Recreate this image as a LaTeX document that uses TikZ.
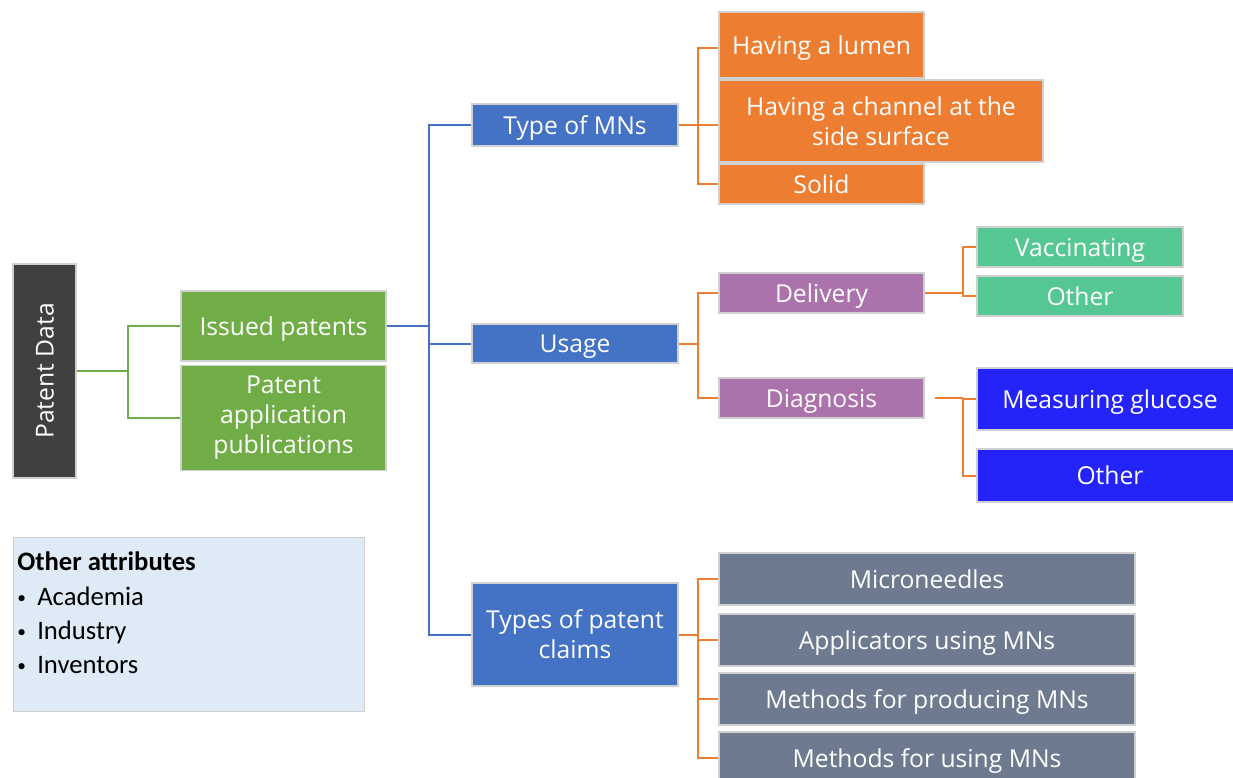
\documentclass[tikz,border=0pt]{standalone}
\usepackage{fontspec}
\setmainfont{Open Sans}
\newfontfamily\calibri{Carlito}
\usepackage{tikz}

\definecolor{pdgray}{HTML}{404040}
\definecolor{grn}{HTML}{70AD47}
\definecolor{blu}{HTML}{4472C4}
\definecolor{org}{HTML}{ED7D31}
\definecolor{pur}{HTML}{AB72AC}
\definecolor{teal}{HTML}{55C792}
\definecolor{bblue}{HTML}{2424FA}
\definecolor{slate}{HTML}{6E7A8F}
\definecolor{lblue}{HTML}{DEEAF6}
\definecolor{edge}{HTML}{D0D0D0}

\begin{document}
\begin{tikzpicture}[x=0.75pt, y=-0.75pt,
  box/.style={draw=edge, line width=1pt, text=white, inner sep=0pt, align=center,
    font=\fontsize{18.5}{22.5}\selectfont},
  sline/.style={text height=17pt, text depth=3.5pt},
  gline/.style={grn, line width=1.5pt},
  bline/.style={blu, line width=1.5pt},
  oline/.style={org, line width=1.5pt}]
\useasboundingbox [fill=white] (0,0) rectangle (1233,778);

\node [box, sline, fill=pdgray, rotate=90, minimum width=160.5pt, minimum height=47.25pt] (pdata) at (44.5,371) {Patent Data};

\node [box, sline, fill=grn, minimum width=153.75pt, minimum height=52.5pt] (issued) at (283.5,326) {Issued patents};
\node [box, fill=grn, minimum width=153.75pt, minimum height=78.75pt] (pubs) at (283.5,418) {Patent\\application\\publications};

\node [box, sline, fill=blu, minimum width=154.5pt, minimum height=31.5pt] (typemn) at (575,125) {Type of MNs};
\node [box, sline, fill=blu, minimum width=154.5pt, minimum height=29.25pt] (usage) at (575,343.5) {Usage};
\node [box, fill=blu, minimum width=154.5pt, minimum height=77.25pt] (claims) at (575,634.5) {Types of patent\\claims};

\node [box, sline, fill=org, minimum width=153.75pt, minimum height=49.5pt] (lumen) at (821.5,45) {Having a lumen};
\node [box, fill=org, minimum width=243pt, minimum height=61.5pt] (channel) at (881,121) {Having a channel at the\\side surface};
\node [box, sline, fill=org, minimum width=153.75pt, minimum height=30pt] (solid) at (821.5,184) {Solid};

\node [box, sline, fill=pur, minimum width=153.75pt, minimum height=30pt] (delivery) at (821.5,293) {Delivery};
\node [box, sline, fill=pur, minimum width=153.75pt, minimum height=30pt] (diag) at (821.5,398) {Diagnosis};

\node [box, sline, fill=teal, minimum width=154.5pt, minimum height=30pt] (vacc) at (1080,247) {Vaccinating};
\node [box, sline, fill=teal, minimum width=154.5pt, minimum height=30pt] (otherd) at (1080,296) {Other};

\node [box, sline, fill=bblue, minimum width=199.5pt, minimum height=46.5pt] (glucose) at (1110,399) {Measuring glucose};
\node [box, sline, fill=bblue, minimum width=199.5pt, minimum height=39.75pt] (otherdg) at (1110,475.5) {Other};

\node [box, sline, fill=slate, minimum width=312pt, minimum height=39pt] (mneedles) at (927,579) {Microneedles};
\node [box, sline, fill=slate, minimum width=312pt, minimum height=39pt] (applic) at (927,640) {Applicators using MNs};
\node [box, sline, fill=slate, minimum width=312pt, minimum height=39pt] (produc) at (927,699) {Methods for producing MNs};
\node [box, sline, fill=slate, minimum width=312pt, minimum height=39pt] (usingmn) at (927,758) {Methods for using MNs};

\node [draw=edge, line width=0.75pt, fill=lblue, minimum width=263.25pt, minimum height=130.5pt, inner sep=0pt] (attr) at (188.5,624) {};
\node [anchor=north west, inner sep=0pt, align=left, font=\calibri\fontsize{20}{25.5}\selectfont] (attrtext) at (17,552)
  {\textbf{Other attributes}\\[0.5pt]
   \makebox[15pt][l]{\raisebox{1.5pt}{\fontsize{13}{13}\selectfont\textbullet}}Academia\\
   \makebox[15pt][l]{\raisebox{1.5pt}{\fontsize{13}{13}\selectfont\textbullet}}Industry\\
   \makebox[15pt][l]{\raisebox{1.5pt}{\fontsize{13}{13}\selectfont\textbullet}}Inventors};

% % % % % % % % % % % % % % % % % % % % % % % % % %

\coordinate (gj) at (128,371);
\draw [gline] (pdata.south) -- (gj);
\draw [gline] (issued.west) -| (gj);
\draw [gline] (pubs.west) -| (gj);

\coordinate (bj) at (429,326);
\draw [bline] (issued.east) -- (bj);
\draw [bline] (typemn.west) -| (bj);
\draw [bline] (claims.west) -| (bj);
\draw [bline] (usage.west) -- (usage.west -| bj);

\coordinate (tj) at (698,125);
\draw [oline] (typemn.east) -- (tj);
\draw [oline] ([yshift=-2.25pt]lumen.west) -| (tj);
\draw [oline] (solid.west) -| (tj);
\draw [oline] (tj) -- (tj -| channel.west);

\coordinate (uj) at (698,343.5);
\draw [oline] (usage.east) -- (uj);
\draw [oline] (delivery.west) -| (uj);
\draw [oline] (diag.west) -| (uj);

\coordinate (dj) at (963,294);
\draw [oline] (delivery.east) -- (delivery.east -| dj);
\draw [oline] (vacc.west) -| (dj);
\draw [oline] (otherd.west) -| (dj);

\coordinate (xj) at (963,398);
\draw [oline] ([xshift=7.5pt]diag.east) -- (xj);
\draw [oline] (glucose.west) -| (xj);
\draw [oline] (otherdg.west) -| (xj);

\coordinate (cj) at (698,634.5);
\draw [oline] (claims.east) -- (cj);
\draw [oline] (mneedles.west) -| (cj);
\draw [oline] (applic.west) -| (cj);
\draw [oline] (produc.west) -| (cj);
\draw [oline] (usingmn.west) -| (cj);
\end{tikzpicture}
\end{document}
